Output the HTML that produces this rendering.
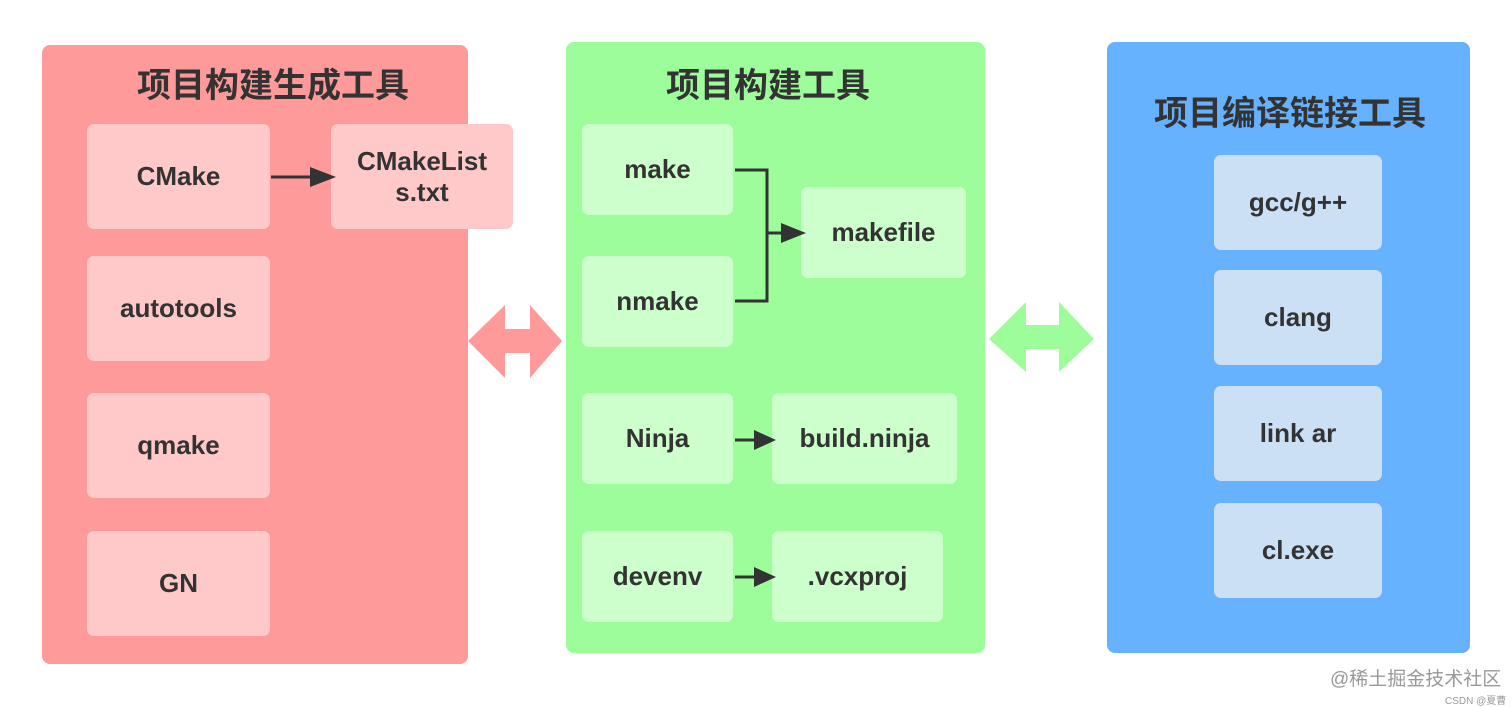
<!DOCTYPE html>
<html><head><meta charset="utf-8"><style>
html,body{margin:0;padding:0;background:#fff;width:1512px;height:707px;overflow:hidden;position:relative;font-family:"Liberation Sans","Noto Sans CJK SC",sans-serif;}
.p{position:absolute;border-radius:8px;}
.b{position:absolute;border-radius:7px;display:flex;align-items:center;justify-content:center;text-align:center;font-weight:bold;font-size:26px;color:#333;line-height:31px;}
.t{position:absolute;font-weight:bold;font-size:34px;color:#333;text-align:center;font-family:"Noto Sans CJK SC",sans-serif;}
.r{background:#ffc9c9}.g{background:#ccffcc}.u{background:#cce0f5}
svg{position:absolute;left:0;top:0}
</style></head><body>
<div class="p" style="left:42px;top:45px;width:426px;height:619px;background:#ff9a9a"></div>
<div class="p" style="left:566px;top:42px;width:419px;height:611px;background:#9dfd9a"></div>
<div class="p" style="left:1107px;top:42px;width:363px;height:611px;background:#66b2ff"></div>

<div class="t" style="left:42px;top:58px;width:462px">项目构建生成工具</div>
<div class="t" style="left:566px;top:58px;width:404px">项目构建工具</div>
<div class="t" style="left:1107px;top:86px;width:366px">项目编译链接工具</div>

<div class="b r" style="left:87px;top:124px;width:183px;height:105px">CMake</div>
<div class="b r" style="left:331px;top:124px;width:182px;height:105px">CMakeList<br>s.txt</div>
<div class="b r" style="left:87px;top:256px;width:183px;height:105px">autotools</div>
<div class="b r" style="left:87px;top:393px;width:183px;height:105px">qmake</div>
<div class="b r" style="left:87px;top:531px;width:183px;height:105px">GN</div>

<div class="b g" style="left:582px;top:124px;width:151px;height:91px">make</div>
<div class="b g" style="left:582px;top:256px;width:151px;height:91px">nmake</div>
<div class="b g" style="left:801px;top:187px;width:165px;height:91px">makefile</div>
<div class="b g" style="left:582px;top:393px;width:151px;height:91px">Ninja</div>
<div class="b g" style="left:772px;top:393px;width:185px;height:91px">build.ninja</div>
<div class="b g" style="left:582px;top:531px;width:151px;height:91px">devenv</div>
<div class="b g" style="left:772px;top:531px;width:171px;height:91px">.vcxproj</div>

<div class="b u" style="left:1214px;top:155px;width:168px;height:95px">gcc/g++</div>
<div class="b u" style="left:1214px;top:270px;width:168px;height:95px">clang</div>
<div class="b u" style="left:1214px;top:386px;width:168px;height:95px">link ar</div>
<div class="b u" style="left:1214px;top:503px;width:168px;height:95px">cl.exe</div>

<svg width="1512" height="707">
<g stroke="#333" stroke-width="3" fill="none">
<line x1="271" y1="177" x2="312" y2="177"/>
<polyline points="735,170 767,170 767,301 735,301"/>
<line x1="767" y1="233" x2="785" y2="233"/>
<line x1="735" y1="440" x2="757" y2="440"/>
<line x1="735" y1="577" x2="757" y2="577"/>
</g>
<g fill="#333">
<polygon points="310,167 336,177 310,187"/>
<polygon points="781,223 806,233 781,243"/>
<polygon points="754,430 776,440 754,450"/>
<polygon points="754,567 776,577 754,587"/>
</g>
<polygon fill="#ff9a9a" points="468,341 505,305 505,329 530,329 530,305 562,341 530,378 530,353 505,353 505,378"/>
<polygon fill="#9dfd9a" points="989,339 1026,302 1026,325 1059,325 1059,302 1094,339 1059,372 1059,349 1026,349 1026,372"/>
</svg>
<div style="position:absolute;left:1330px;top:664px;font-size:19px;color:#999;font-family:'Liberation Sans','Noto Sans CJK SC',sans-serif">@稀土掘金技术社区</div>
<div style="position:absolute;left:1445px;top:692px;font-size:10px;color:#999;font-family:'Liberation Sans','Noto Sans CJK SC',sans-serif">CSDN @夏曹俊</div>
</body></html>
